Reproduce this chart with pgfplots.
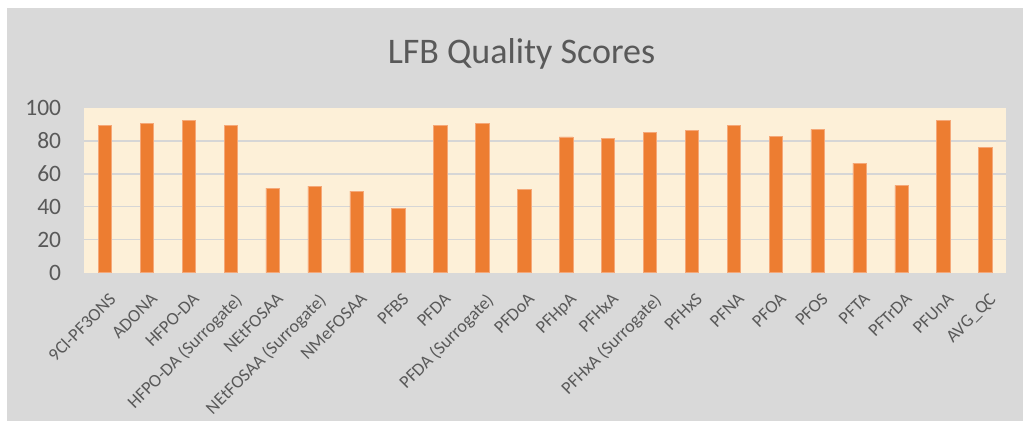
\documentclass[border=0pt]{standalone}
\usepackage{pgfplots}
\pgfplotsset{compat=1.18}
\usepackage{fontspec}
\setmainfont{Carlito}
\definecolor{txt}{HTML}{595959}
\definecolor{panel}{HTML}{D9D9D9}
\definecolor{plotbg}{HTML}{FDF0D8}
\definecolor{barc}{HTML}{ED7D31}
\definecolor{bare}{HTML}{F5A878}
\definecolor{gridc}{HTML}{D6D6D6}
\begin{document}
\begin{tikzpicture}[x=1pt,y=1pt]
\fill[white] (0,0) rectangle (1023,421);
\fill[panel] (7,0) rectangle (1023,413);
\node[anchor=base, text=txt, font=\fontsize{36}{42}\selectfont, inner sep=0pt] at (521.5,357.7) {LFB Quality Scores};
\begin{axis}[
  at={(84pt,148.3pt)}, anchor=south west,
  width=922.3pt, height=164.7pt, scale only axis,
  xmin=-0.5, xmax=21.5, ymin=0, ymax=100,
  ytick={0,20,...,100},
  extra y ticks={20,40,60,80},
  extra y tick labels={},
  extra y tick style={grid=major},
  grid style={draw=gridc, line width=1.3pt},
  xtick={0,...,21},
  xticklabels={9Cl-PF3ONS,ADONA,HFPO-DA,HFPO-DA (Surrogate),NEtFOSAA,NEtFOSAA (Surrogate),NMeFOSAA,PFBS,PFDA,PFDA (Surrogate),PFDoA,PFHpA,PFHxA,PFHxA (Surrogate),PFHxS,PFNA,PFOA,PFOS,PFTA,PFTrDA,PFUnA,AVG\_QC},
  axis background/.style={fill=plotbg},
  axis line style={draw=none},
  major tick length=0pt,
  /pgf/number format/assume math mode=true,
  yticklabel style={font=\fontsize{23.5}{28}\selectfont, text=txt, inner sep=0pt, anchor=east, xshift=-22.7pt},
  xticklabel style={font=\fontsize{18}{21}\selectfont, text=txt, inner sep=0pt, xshift=3pt, yshift=-19pt, rotate=45, anchor=north east},
  ybar, bar width=13.4pt,
]
\addplot[fill=barc, draw=bare, line width=0.6pt] coordinates {
(0,89.2) (1,90.8) (2,92.4) (3,89.2) (4,51.4) (5,52.6) (6,49.6) (7,39.0)
(8,89.2) (9,90.8) (10,50.8) (11,82.4) (12,81.4) (13,85.4) (14,86.4) (15,89.2)
(16,82.6) (17,87.0) (18,66.6) (19,53.0) (20,92.4) (21,76.0)};
\end{axis}
\end{tikzpicture}
\end{document}
